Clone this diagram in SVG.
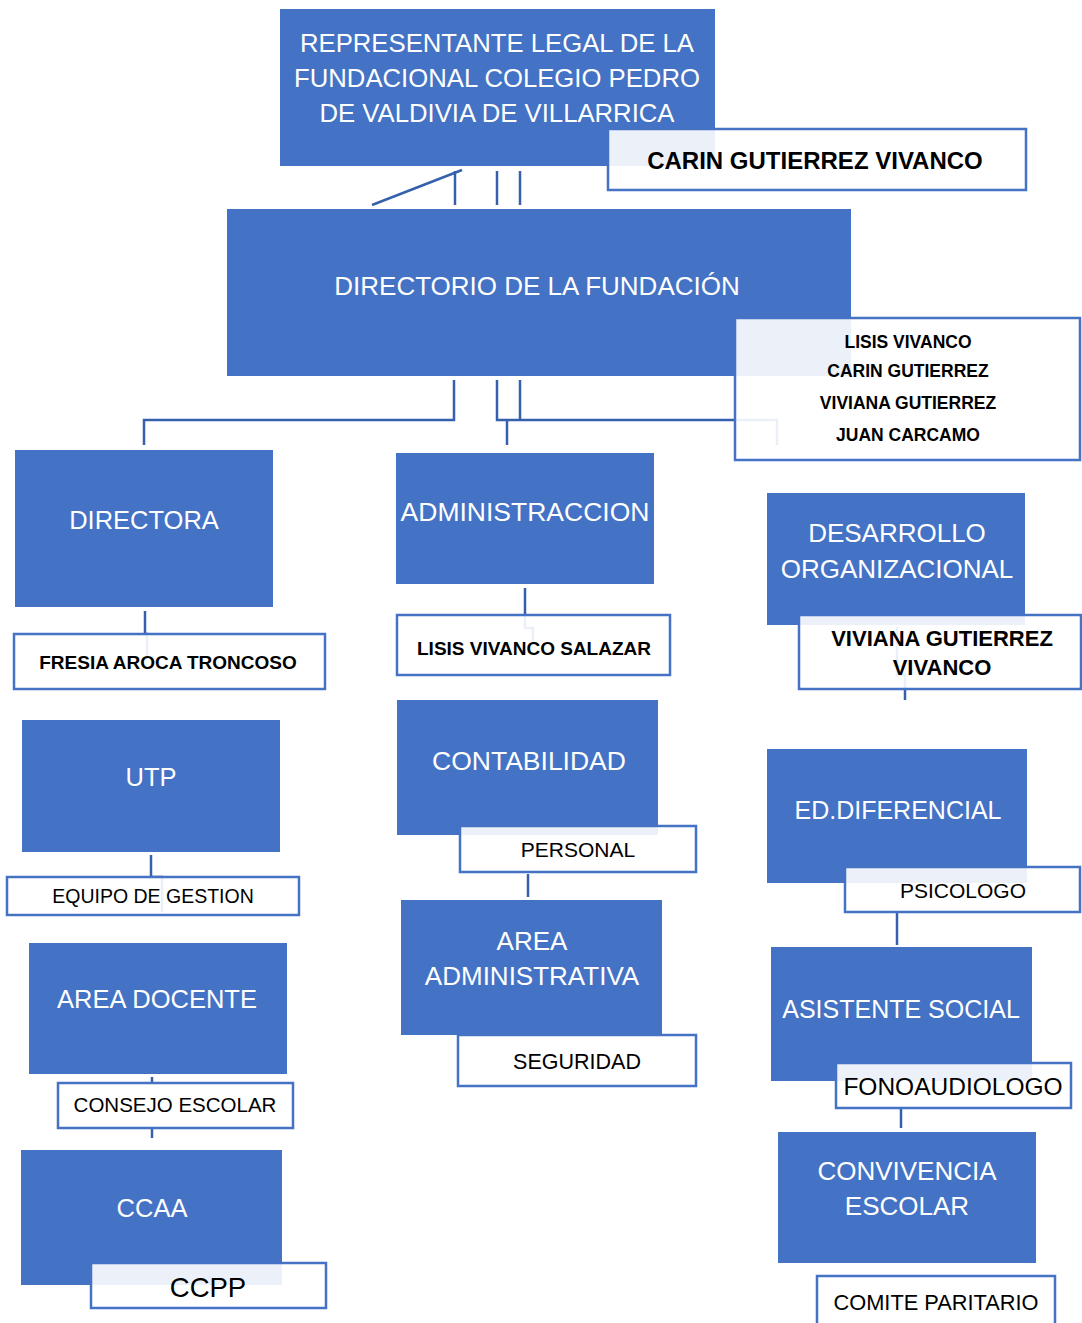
<svg xmlns="http://www.w3.org/2000/svg" width="1082" height="1323" viewBox="0 0 1082 1323">
<style>
.blue{fill:#4472C4}
.lab{fill:#fff;fill-opacity:0.9;stroke:#4472C4;stroke-width:2.5}
.wt{fill:#fff;font-family:"Liberation Sans",Arial,sans-serif;font-size:25.5px;text-anchor:middle}
.bk{fill:#000;font-family:"Liberation Sans",Arial,sans-serif;text-anchor:middle}
.b{font-weight:bold}
.con{fill:none;stroke:#3560AE;stroke-width:2.5}
</style>
<rect width="1082" height="1323" fill="#fff"/>
<g id="connectors" class="con">
<path d="M462 170 L372 205"/>
<path d="M455 171 V205"/>
<path d="M497 171 V205"/>
<path d="M520 171 V205"/>
<path d="M454 380 V420 H144 V445"/>
<path d="M497 380 V420 H777 V445"/>
<path d="M520 380 V420"/>
<path d="M507 420 V445"/>
<path d="M145 611 V634 H147 V660"/>
<path d="M525 588 V628 H533 V645"/>
<path d="M897 627 V675 H905 V700"/>
<path d="M151 855 V877 H162 V912"/>
<path d="M152 1077 V1083"/>
<path d="M152 1128 V1138"/>
<path d="M528 874 V897"/>
<path d="M897 912 V945"/>
<path d="M901 1108 V1128"/>
</g>
<g id="representante">
<rect class="blue" x="280" y="9" width="435" height="157"/>
<text class="wt" x="497" y="52" style="font-size:25.7px">REPRESENTANTE LEGAL DE LA</text>
<text class="wt" x="497" y="87" style="font-size:25.7px">FUNDACIONAL COLEGIO PEDRO</text>
<text class="wt" x="497" y="122" style="font-size:25.7px">DE VALDIVIA DE VILLARRICA</text>
</g>
<g id="carin">
<rect class="lab" x="608" y="129" width="418" height="61"/>
<text class="bk b" x="815" y="168.5" font-size="24">CARIN GUTIERREZ VIVANCO</text>
</g>
<g id="directorio">
<rect class="blue" x="227" y="209" width="624" height="167"/>
<text class="wt" x="537" y="295" style="font-size:26px">DIRECTORIO DE LA FUNDACIÓN</text>
</g>
<g id="miembros">
<rect class="lab" x="735" y="318" width="345" height="142"/>
<text class="bk b" x="908" y="348" font-size="17.5">LISIS VIVANCO</text>
<text class="bk b" x="908" y="377" font-size="17.5">CARIN GUTIERREZ</text>
<text class="bk b" x="908" y="409" font-size="17.5">VIVIANA GUTIERREZ</text>
<text class="bk b" x="908" y="441" font-size="17.5">JUAN CARCAMO</text>
</g>
<g id="directora">
<rect class="blue" x="15" y="450" width="258" height="157"/>
<text class="wt" x="144" y="529">DIRECTORA</text>
</g>
<g id="fresia">
<rect class="lab" x="14" y="634" width="311" height="55"/>
<text class="bk b" x="168" y="669" font-size="19">FRESIA AROCA TRONCOSO</text>
</g>
<g id="utp">
<rect class="blue" x="22" y="720" width="258" height="132"/>
<text class="wt" x="151" y="786">UTP</text>
</g>
<g id="equipo">
<rect class="lab" x="7" y="877" width="292" height="38"/>
<text class="bk" x="153" y="903" font-size="19.5">EQUIPO DE GESTION</text>
</g>
<g id="area-docente">
<rect class="blue" x="29" y="943" width="258" height="131"/>
<text class="wt" x="157" y="1008">AREA DOCENTE</text>
</g>
<g id="consejo">
<rect class="lab" x="58" y="1083" width="235" height="45"/>
<text class="bk" x="175" y="1112" font-size="20.5">CONSEJO ESCOLAR</text>
</g>
<g id="ccaa">
<rect class="blue" x="21" y="1150" width="261" height="135"/>
<text class="wt" x="152" y="1217">CCAA</text>
</g>
<g id="ccpp">
<rect class="lab" x="91" y="1263" width="235" height="45"/>
<text class="bk" x="208" y="1297" font-size="27.5">CCPP</text>
</g>
<g id="administraccion">
<rect class="blue" x="396" y="453" width="258" height="131"/>
<text class="wt" x="525" y="521" style="font-size:26.5px">ADMINISTRACCION</text>
</g>
<g id="lisis">
<rect class="lab" x="397" y="615" width="273" height="60"/>
<text class="bk b" x="534" y="655" font-size="19">LISIS VIVANCO SALAZAR</text>
</g>
<g id="contabilidad">
<rect class="blue" x="397" y="700" width="261" height="135"/>
<text class="wt" x="529" y="770" style="font-size:26.5px">CONTABILIDAD</text>
</g>
<g id="personal">
<rect class="lab" x="460" y="826" width="236" height="46"/>
<text class="bk" x="578" y="856.5" font-size="21">PERSONAL</text>
</g>
<g id="area-administrativa">
<rect class="blue" x="401" y="900" width="261" height="135"/>
<text class="wt" x="532" y="950" style="font-size:26px">AREA</text>
<text class="wt" x="532" y="985" style="font-size:26px">ADMINISTRATIVA</text>
</g>
<g id="seguridad">
<rect class="lab" x="458" y="1035" width="238" height="51"/>
<text class="bk" x="577" y="1069" font-size="21.5">SEGURIDAD</text>
</g>
<g id="desarrollo">
<rect class="blue" x="767" y="493" width="258" height="132"/>
<text class="wt" x="897" y="542" style="font-size:26px">DESARROLLO</text>
<text class="wt" x="897" y="578" style="font-size:26px">ORGANIZACIONAL</text>
</g>
<g id="viviana">
<rect class="lab" x="799" y="615" width="282" height="74"/>
<text class="bk b" x="942" y="646" font-size="22">VIVIANA GUTIERREZ</text>
<text class="bk b" x="942" y="675" font-size="22">VIVANCO</text>
</g>
<g id="ed-diferencial">
<rect class="blue" x="767" y="749" width="260" height="134"/>
<text class="wt" x="898" y="819" style="font-size:25px">ED.DIFERENCIAL</text>
</g>
<g id="psicologo">
<rect class="lab" x="845" y="867" width="235" height="45"/>
<text class="bk" x="963" y="897.5" font-size="21">PSICOLOGO</text>
</g>
<g id="asistente-social">
<rect class="blue" x="771" y="947" width="261" height="134"/>
<text class="wt" x="901" y="1018" style="font-size:25px">ASISTENTE SOCIAL</text>
</g>
<g id="fonoaudiologo">
<rect class="lab" x="836" y="1063" width="235" height="45"/>
<text class="bk" x="953" y="1095" font-size="24.5">FONOAUDIOLOGO</text>
</g>
<g id="convivencia">
<rect class="blue" x="778" y="1132" width="258" height="131"/>
<text class="wt" x="907" y="1180" style="font-size:26px">CONVIVENCIA</text>
<text class="wt" x="907" y="1215" style="font-size:26px">ESCOLAR</text>
</g>
<g id="comite">
<rect class="lab" x="817" y="1276" width="238" height="60"/>
<text class="bk" x="936" y="1310" font-size="21.8">COMITE PARITARIO</text>
</g>
</svg>
